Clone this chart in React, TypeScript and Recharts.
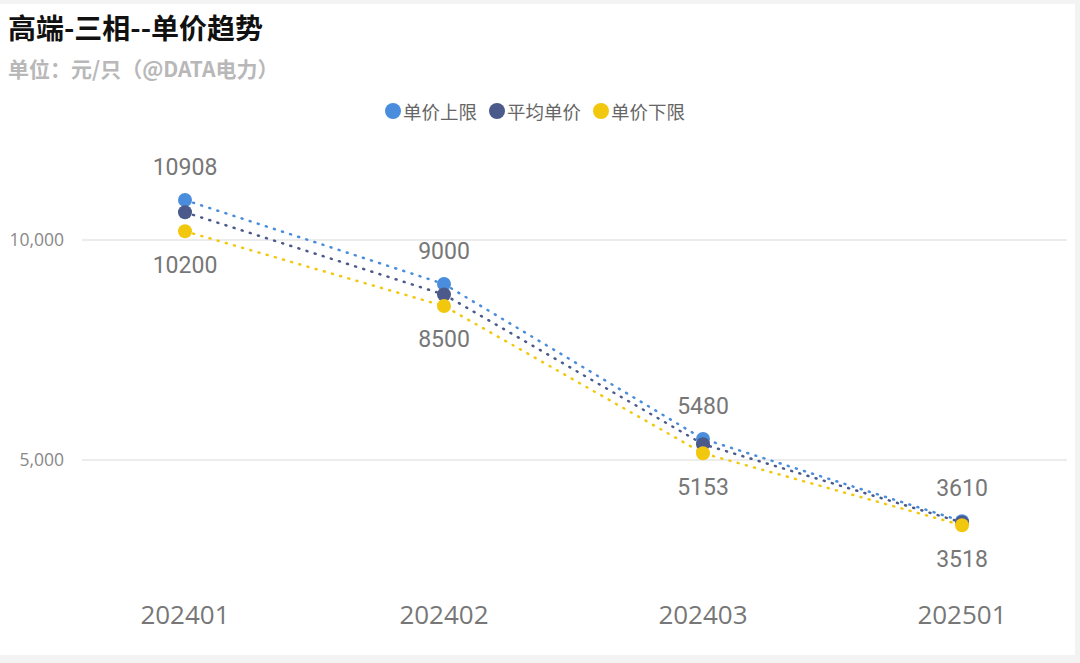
import { CartesianGrid, LabelList, Line, LineChart, XAxis, YAxis } from "recharts";

const months = ["202401", "202402", "202403", "202501"];
const upper = [10908, 9000, 5480, 3610];
const average = [10630, 8760, 5360, 3580];
const lower = [10200, 8500, 5153, 3518];
const yTicks = [5000, 10000];

const series = [
  { key: "upper", name: "单价上限", color: "#4a8ddc" },
  { key: "average", name: "平均单价", color: "#4b5a8a" },
  { key: "lower", name: "单价下限", color: "#f2c80f" },
];

const data = months.map((month, i) => ({
  month,
  upper: upper[i],
  average: average[i],
  lower: lower[i],
}));

const numFont = "Roboto, 'Noto Sans', sans-serif";

export default function App() {
  return (
    <div style={{ position: "fixed", inset: 0, background: "#f3f3f3" }}>
      <div
        style={{
          position: "absolute",
          left: 0,
          top: 4,
          width: 1075,
          height: 651,
          background: "#ffffff",
        }}
      >
        <div
          style={{
            position: "absolute",
            left: 8,
            top: 3,
            fontFamily: "'Noto Sans CJK SC', sans-serif",
            fontWeight: 700,
            fontSize: 28,
            color: "#111",
            whiteSpace: "nowrap",
          }}
        >
          高端-三相--单价趋势
        </div>
        <div
          style={{
            position: "absolute",
            left: 8,
            top: 49,
            fontFamily: "'Noto Sans CJK SC', sans-serif",
            fontWeight: 700,
            fontSize: 21,
            color: "#b8b8b8",
            whiteSpace: "nowrap",
          }}
        >
          单位：元/只（@DATA电力）
        </div>
        <div
          style={{
            position: "absolute",
            left: 0,
            width: 1070,
            top: 94,
            display: "flex",
            justifyContent: "center",
            gap: 12,
            fontFamily: "'Noto Sans CJK SC', sans-serif",
            fontSize: 18.5,
            color: "#666",
          }}
        >
          {series.map((s) => (
            <div key={s.key} style={{ display: "flex", alignItems: "center", gap: 2 }}>
              <span
                style={{
                  width: 16,
                  height: 16,
                  borderRadius: "50%",
                  background: s.color,
                  display: "inline-block",
                }}
              />
              <span>{s.name}</span>
            </div>
          ))}
        </div>
        <div style={{ position: "absolute", left: 0, top: 0 }}>
          <LineChart
            width={1075}
            height={651}
            data={data}
            margin={{ top: 148, right: 8, bottom: 0, left: 0 }}
          >
            <CartesianGrid
              horizontal
              vertical={false}
              horizontalValues={yTicks}
              stroke="#e6e6e6"
              strokeWidth={1.5}
            />
            <XAxis
              dataKey="month"
              axisLine={false}
              tickLine={false}
              height={63}
              padding={{ left: 103, right: 105 }}
              tick={{ fill: "#777", fontSize: 26, fontFamily: "'Open Sans', sans-serif" }}
              tickMargin={8}
            />
            <YAxis
              domain={[2000, 12000]}
              ticks={yTicks}
              width={82}
              axisLine={false}
              tickLine={false}
              tickFormatter={(v: number) => v.toLocaleString("en-US")}
              tick={{ fill: "#888", fontSize: 17.5, fontFamily: "'Open Sans', sans-serif" }}
              tickMargin={12}
            />
            {series.map((s) => (
              <Line
                key={s.key}
                dataKey={s.key}
                name={s.name}
                stroke={s.color}
                strokeWidth={2.5}
                strokeDasharray="1 7.5"
                strokeLinecap="round"
                dot={{ r: 7, fill: s.color, stroke: "none" }}
                activeDot={false}
                isAnimationActive={false}
              >
                {s.key !== "average" && (
                  <LabelList
                    dataKey={s.key}
                    position={s.key === "upper" ? "top" : "bottom"}
                    offset={25}
                    fill="#777"
                    fontSize={23}
                    fontFamily={numFont}
                  />
                )}
              </Line>
            ))}
          </LineChart>
        </div>
      </div>
    </div>
  );
}
